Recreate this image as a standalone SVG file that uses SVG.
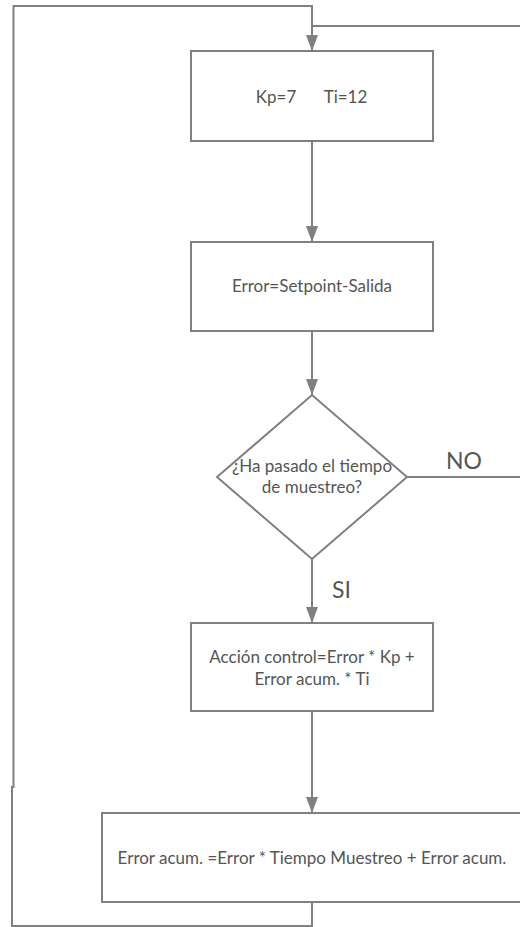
<svg xmlns="http://www.w3.org/2000/svg" width="520" height="927" viewBox="0 0 520 927">
  <style>
    .box { fill: #ffffff; stroke: #808080; stroke-width: 2; }
    .wire { fill: none; stroke: #808080; stroke-width: 2; }
    .lbl { font-family: Lato, "Open Sans", "Liberation Sans", sans-serif; font-size: 17px; fill: #555555; text-anchor: middle; }
    .tag { font-family: Lato, "Open Sans", "Liberation Sans", sans-serif; font-size: 23px; fill: #555555; }
  </style>
  <defs>
    <marker id="arrow" markerUnits="userSpaceOnUse" markerWidth="16" markerHeight="12" refX="16" refY="6" orient="auto">
      <path d="M0,0 L16,6 L0,12 Z" fill="#808080"/>
    </marker>
  </defs>
  <rect width="520" height="927" fill="#ffffff"/>

  <!-- connectors -->
  <g id="connectors">
    <!-- loop back from the last step to the start -->
    <path class="wire" d="M312,902 V926 H12 V787 H13.5 V6 H312 V51" marker-end="url(#arrow)"/>
    <!-- NO branch returning to the top -->
    <path class="wire" d="M407,477 H520"/>
    <path class="wire" d="M520,26 H312"/>
    <path class="wire" d="M312,141 V242" marker-end="url(#arrow)"/>
    <path class="wire" d="M312,331 V395" marker-end="url(#arrow)"/>
    <path class="wire" d="M312,559 V623" marker-end="url(#arrow)"/>
    <path class="wire" d="M312,711 V813" marker-end="url(#arrow)"/>
    <text class="tag" x="446" y="469">NO</text>
    <text class="tag" x="332" y="598">SI</text>
  </g>

  <g id="params">
    <rect class="box" x="191" y="51" width="242" height="90"/>
    <text class="lbl" y="103"><tspan x="276">Kp=7</tspan><tspan x="345.5">Ti=12</tspan></text>
  </g>

  <g id="error">
    <rect class="box" x="191" y="242" width="242" height="89"/>
    <text class="lbl" x="312" y="292">Error=Setpoint-Salida</text>
  </g>

  <g id="sample-check">
    <polygon class="box" points="312,395 407,477 312,559 217,477"/>
    <text class="lbl" x="312" y="472">¿Ha pasado el tiempo</text>
    <text class="lbl" x="312" y="493">de muestreo?</text>
  </g>

  <g id="control-action">
    <rect class="box" x="191" y="623" width="242" height="88"/>
    <text class="lbl" x="312" y="663">Acción control=Error * Kp +</text>
    <text class="lbl" x="312" y="685">Error acum. * Ti</text>
  </g>

  <g id="accumulate">
    <rect class="box" x="102" y="813" width="420" height="89"/>
    <text class="lbl" x="312" y="864">Error acum. =Error * Tiempo Muestreo + Error acum.</text>
  </g>
</svg>
